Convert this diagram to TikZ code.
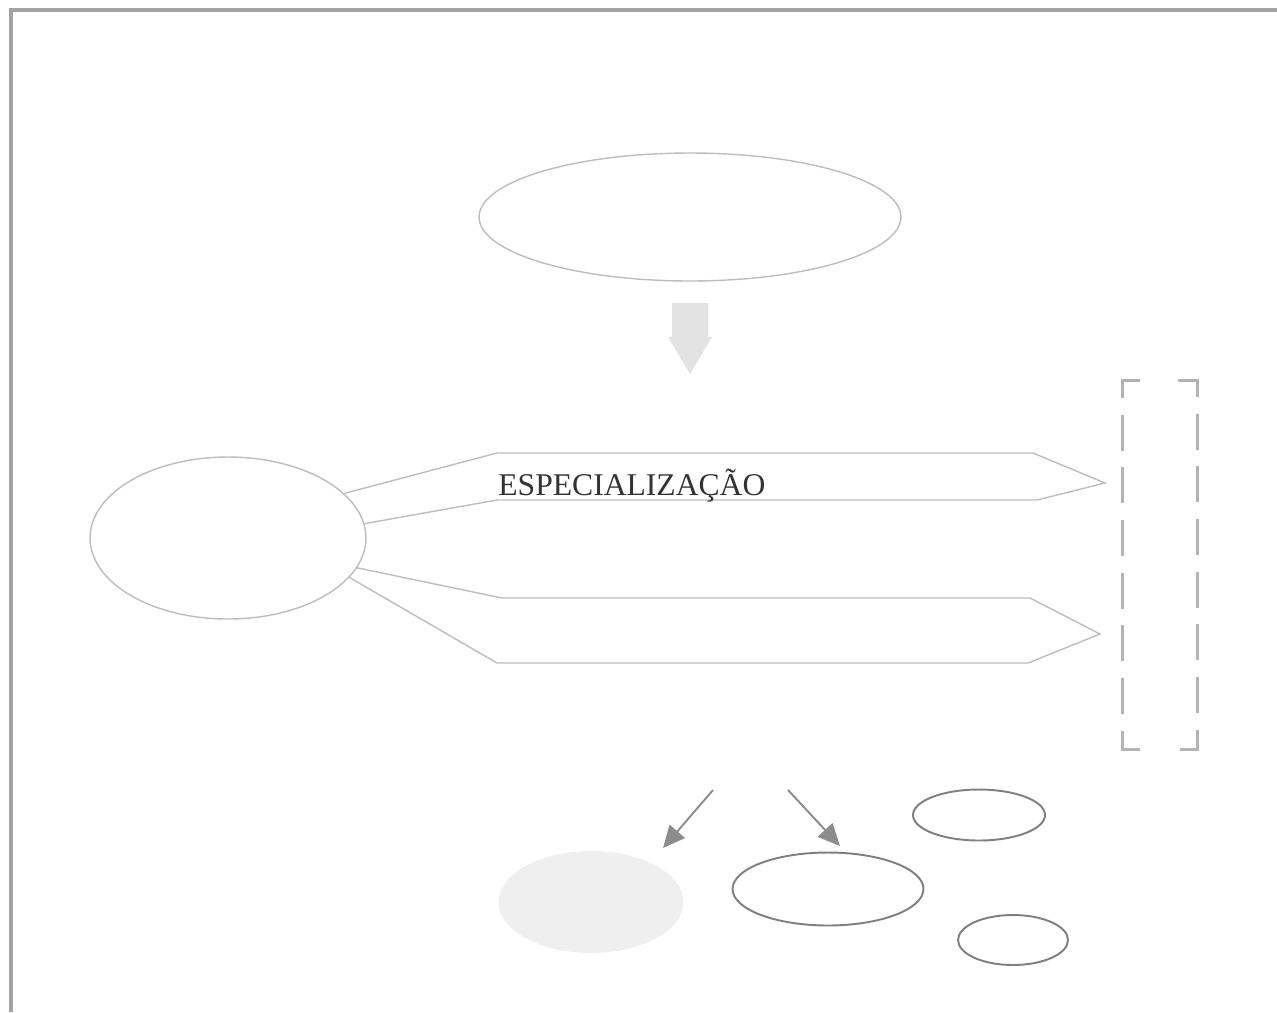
\documentclass[tikz,border=0pt]{standalone}
\usepackage{fontspec}
\setmainfont{Liberation Serif}
\usepackage{tikz}
\usetikzlibrary{shapes.geometric,arrows.meta}

\definecolor{framegray}{HTML}{A3A3A3}
\definecolor{linegray}{HTML}{BDBDBD}
\definecolor{dashgray}{HTML}{B3B3B3}
\definecolor{darkgray}{HTML}{7F7F7F}
\definecolor{arrowgray}{HTML}{8C8C8C}
\definecolor{fillgray}{HTML}{EFEFEF}
\definecolor{blockgray}{HTML}{E3E3E3}
\definecolor{textgray}{HTML}{333333}

\tikzset{
  oval/.style={ellipse,draw=linegray,line width=0.8pt,inner sep=0pt},
  ovaldark/.style={ellipse,draw=darkgray,line width=1.1pt,inner sep=0pt},
  ovalfill/.style={ellipse,fill=fillgray,draw=none,inner sep=0pt},
  pointer/.style={draw=linegray,line width=0.8pt,line join=miter},
  bracket/.style={draw=dashgray,line width=1.7pt,dash pattern=on 0.72cm off 0.334cm},
  smallarrow/.style={draw=arrowgray,line width=1.1pt,-{Triangle[length=0.44cm,width=0.40cm]}}
}

\begin{document}
\begin{tikzpicture}[x=0.02cm,y=-0.02cm]
\useasboundingbox (0,0) rectangle (1277,1012);

% frame:
\draw[framegray,line width=1.9pt] (11,1012) -- (11,10) -- (1277,10);

% upper ellipse and block arrow:
\node[oval,minimum width=8.44cm,minimum height=2.56cm] (topo) at (690,217) {};
\fill[blockgray] (672,303) -- (708,303) -- (708,337) -- (712,337) -- (690,374)
  -- (668,337) -- (672,337) -- cycle;

% left ellipse with the two pointers:
\node[oval,minimum width=5.52cm,minimum height=3.24cm] (esq) at (228,538) {};
\draw[pointer] (esq.21.5) -- (497,453) -- (1033,453) -- (1105,483) -- (1037,500)
  -- (497,500) -- (esq.6);
\draw[pointer] (esq.-13) -- (502,598) -- (1030,598) -- (1100,634) -- (1028,663)
  -- (497,663) -- (esq.-18.6);
\node[anchor=base west,inner sep=0pt,text=textgray,font=\fontsize{18}{20}\selectfont]
  (espec) at (498,495) {ESPECIALIZAÇÃO};

% dashed bracket:
\draw[bracket] (1140,380) -- (1122,380) -- (1122,749) -- (1140,749);
\draw[bracket] (1178,380) -- (1197,380) -- (1197,749) -- (1178,749);

% lower ellipses:
\node[ovalfill,minimum width=3.70cm,minimum height=2.04cm] (cinza) at (591,902) {};
\node[ovaldark,minimum width=3.82cm,minimum height=1.46cm] (meio) at (828,889) {};
\node[ovaldark,minimum width=2.64cm,minimum height=1.02cm] (cima) at (979,815) {};
\node[ovaldark,minimum width=2.20cm,minimum height=1.00cm] (baixo) at (1013,940) {};

% arrows:
\coordinate (a1) at (713,790);
\coordinate (a2) at (788,790);
\coordinate (b1) at (663,848);
\coordinate (b2) at (840,846);
\draw[smallarrow] (a1) -- (b1);
\draw[smallarrow] (a2) -- (b2);

\end{tikzpicture}
\end{document}
